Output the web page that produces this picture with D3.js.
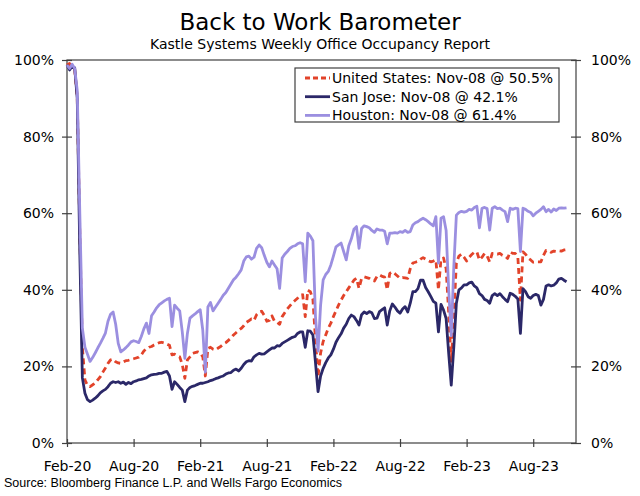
<!DOCTYPE html>
<html>
<head>
<meta charset="utf-8">
<script src="https://cdn.jsdelivr.net/npm/d3@7"></script>
<style>
  html, body { margin: 0; padding: 0; background: #fff; }
  svg { display: block; }
</style>
</head>
<body>
<svg id="chart" width="640" height="496"></svg>
<script>
// Weekly observations, week 0 = first week of Feb 2020, last = Nov-08-2023
const tickLabels = ["Feb-20","Aug-20","Feb-21","Aug-21","Feb-22","Aug-22","Feb-23","Aug-23"];
const tickWeeks = [0, 26, 52, 78, 104, 130, 156, 182];
const yTicks = [0, 20, 40, 60, 80, 100];
const seriesNames = ["United States: Nov-08 @ 50.5%", "San Jose: Nov-08 @ 42.1%", "Houston: Nov-08 @ 61.4%"];

const unitedStates = [
  98.7,99.1,98.5,97.5,90,55,25,16.5,15,14.7,
  15.2,15.6,16.5,17.3,18.5,19.6,20.8,21.7,21.9,21.2,
  20.9,20.8,21.2,21.5,21.6,21.8,22,22.2,22.4,23,
  24,24.6,25,25.2,25.6,25.9,26.2,26.3,26.1,25.8,
  25.5,23,23.2,22.8,22.5,20.5,16.9,21.7,22.5,23.4,
  23.6,23.8,23.5,22.5,17.5,24.7,25,24.5,24.3,24.8,
  25.2,25.8,26.2,26.8,27.4,28.2,28.8,29.4,29.9,30.6,
  31.5,31.9,32.4,32,33.5,34.2,34.4,33.3,31.8,32,
  33.2,31.8,31.5,31,33,34,35,35.8,36.6,37.2,
  37.8,38.6,38.7,33,39.9,39.5,37.5,27,17.3,23.5,
  26.5,28.2,30,31.3,33,34.5,36,37.3,38.5,39.5,
  40.5,41.5,42.5,43,40.4,43,43.4,43.2,43,42.5,
  42.3,43.5,43.9,43.5,43.3,40,44.3,44.7,44.2,43.6,
  43,43.2,43.1,43,45.5,47,47.2,47.4,48,48.4,
  48,47.6,47.3,47.5,47.8,40,48,48.3,45.5,34,
  21,33,47,48.8,49.3,48.5,47.5,48.5,49.2,49.8,
  49.9,47.8,48.5,49.5,48.8,47.3,49.5,49.5,49.3,49.5,
  49,48.8,48.2,49.9,49.5,49.5,48.5,37.3,49.9,49.3,
  48.3,47.8,47.2,47.3,47.3,47.3,49,50.3,50.2,49.8,
  50.1,50,50.2,50.1,50.4,50.5
];

const sanJose = [
  98.7,97.4,98.3,98,90,50,17,13,11.3,10.8,
  11.2,11.7,12.3,13.1,13.6,14,14.7,15.6,16,15.8,
  16,15.6,15.9,15.3,15.8,15.5,16,16.2,16.5,16.6,
  16.8,17,17.5,17.8,17.9,18,18.2,18.2,18.5,18.7,
  17.5,14,16,15.3,14.5,13.8,10.8,13.8,14.5,14.8,
  15,15.3,15.6,15.6,15.8,16,16.3,16.5,16.8,17,
  17.3,17.5,18,18.3,18.4,19,19.3,18.8,19.5,20.5,
  21.2,21.5,21.4,22.5,23,23.4,23.2,23.3,23.8,24.3,
  24.8,24.8,25.4,25.3,26,26.4,26.8,27.2,27.6,27.8,
  28.6,29,29,25,29.3,29.2,28.2,21,13.4,17.5,
  19.5,21,22.2,23,24.5,26.3,27.5,28.5,30,31,
  32.5,33.4,33,32,30.8,33.5,34.2,33.8,34.3,34,
  32.5,32.6,34.3,34.8,35.3,30.8,34.5,36.3,35.5,34.5,
  33.9,35,35.6,34.2,36.5,39.5,39.5,40.3,42.5,42.5,
  40.6,39.5,38.3,37,36.5,29,36.2,34.7,32.5,23.4,
  15.1,25,36.5,40,40.5,41.3,41.3,41.8,42,41,
  40.5,39,38.5,37.5,37.2,36.5,38.5,39,38.5,39,
  38.2,37.5,36.9,39.1,38.8,38.3,37.6,28.6,40.3,39.5,
  38.2,37.8,38.5,38.8,38.5,36,37.5,41,41.3,41,
  41.2,41.8,42.8,43,42.5,42.1
];

const houston = [
  98.7,97.8,98.9,97.8,92,60,30,25,23.2,21.3,
  22.3,23.5,24.8,26,27.3,28.7,31.8,33.6,34.2,31,
  26,23.8,24.3,24.9,25.6,26.4,26.7,26.5,26.2,27.8,
  29.8,31.3,28.6,33.2,34.2,35.3,36.1,36.6,37.1,37.5,
  37.8,30.4,36,35.2,34.5,29,22.1,28.6,32.6,33.2,
  33.7,34.3,34.8,29.5,18.5,35.5,36.7,34.5,35.5,36.5,
  37.5,38.6,39.3,40.4,41.5,42.6,43.3,44.2,45.2,47.5,
  48.6,48.8,48,48.5,50.8,51.7,51,49,47.2,46,
  47.5,46.5,45.5,40.4,48.3,49.3,50,50.8,51.3,51.5,
  52,52.3,52,42.1,54.8,54,52.8,33,24,36,
  42.6,44,44.8,46.5,48.8,51.2,51.7,52.2,50,47.8,
  51.5,53.3,55.8,56.5,50.8,56,56.7,56.5,56.2,55.5,
  55,55.9,55.6,55.6,55.3,52,54.8,54.8,54.9,54.8,
  55.2,55,55.5,55,55.2,56.9,57.5,57.8,58.3,58.7,
  58.3,57.8,57.2,56.7,59.1,47,58.7,59.1,55.5,40,
  28,46,59.5,60.2,60.5,60.3,60.5,61,60.8,61.5,
  61.8,56.2,61.3,61.5,61.2,55.6,61.3,61.7,61.2,61.3,
  60.8,60.4,57.8,61.3,61,61.3,61.2,50,61.3,61,
  60.5,60.2,59.3,60,60.5,61,61.7,60.4,61,60.3,
  61.1,60.7,61.3,61.4,61.3,61.4
];

const svg = d3.select("#chart");
const W = 640, H = 496;
const m = { left: 67, right: 576, top: 60, bottom: 443 };
const axisColor = "#404040";
const font = "Verdana, 'DejaVu Sans', sans-serif";

const x = d3.scaleLinear().domain([0, 198.7]).range([m.left, m.right]);
const y = d3.scaleLinear().domain([0, 100]).range([m.bottom, m.top]);

// Title
svg.append("text").attr("x", 320).attr("y", 30).attr("text-anchor", "middle")
  .style("font-family", font).style("font-size", "23px").attr("fill", "#000")
  .text("Back to Work Barometer");
svg.append("text").attr("x", 320).attr("y", 49).attr("text-anchor", "middle")
  .style("font-family", font).style("font-size", "14px").attr("fill", "#000")
  .text("Kastle Systems Weekly Office Occupancy Report");

// Frame
svg.append("rect").attr("x", m.left).attr("y", m.top)
  .attr("width", m.right - m.left).attr("height", m.bottom - m.top)
  .attr("fill", "none").attr("stroke", axisColor).attr("stroke-width", 1.2);

// Left axis
const yFmt = d => d + "%";
const leftAxis = d3.axisLeft(y).tickValues(yTicks).tickFormat(yFmt).tickSizeInner(5).tickSizeOuter(0).tickPadding(8);
const gl = svg.append("g").attr("transform", `translate(${m.left},0)`).call(leftAxis);
const rightAxis = d3.axisRight(y).tickValues(yTicks).tickFormat(yFmt).tickSizeInner(5).tickSizeOuter(0).tickPadding(10);
const gr = svg.append("g").attr("transform", `translate(${m.right},0)`).call(rightAxis);
const bottomAxis = d3.axisBottom(x).tickValues(tickWeeks).tickFormat((d, i) => tickLabels[i]).tickSizeInner(4).tickSizeOuter(0).tickPadding(14);
const gb = svg.append("g").attr("transform", `translate(0,${m.bottom})`).call(bottomAxis);

[gl, gr, gb].forEach(g => {
  g.select(".domain").remove();
  g.selectAll(".tick line").attr("stroke", axisColor).attr("stroke-width", 1.2);
  g.selectAll(".tick text").style("font-family", font).style("font-size", "14px").attr("fill", "#000");
});
// ticks crossing the axis
gl.selectAll(".tick line").attr("x1", 5);
gr.selectAll(".tick line").attr("x1", -5);
gb.selectAll(".tick line").attr("y1", -4);

// Lines
const line = d3.line().x((d, i) => x(i)).y(d => y(d));
const series = [
  { name: seriesNames[0], values: unitedStates, color: "#e2432a", width: 2.8, dash: "6,4" },
  { name: seriesNames[1], values: sanJose, color: "#2b2868", width: 2.8, dash: null },
  { name: seriesNames[2], values: houston, color: "#9b8fe0", width: 2.8, dash: null }
];
series.forEach(s => {
  svg.append("path").datum(s.values).attr("d", line)
    .attr("fill", "none").attr("stroke", s.color).attr("stroke-width", s.width)
    .attr("stroke-linejoin", "round")
    .attr("stroke-dasharray", s.dash);
});

// Legend
const lg = svg.append("g");
lg.append("rect").attr("x", 295).attr("y", 68).attr("width", 264).attr("height", 54)
  .attr("fill", "#fff").attr("stroke", axisColor).attr("stroke-width", 1.2);
series.forEach((s, i) => {
  const cy = 78 + i * 18.7;
  lg.append("line").attr("x1", 305).attr("x2", 330).attr("y1", cy).attr("y2", cy)
    .attr("stroke", s.color).attr("stroke-width", 2.8).attr("stroke-dasharray", s.dash ? "5,3" : null);
  lg.append("text").attr("x", 332).attr("y", cy + 5)
    .style("font-family", font).style("font-size", "14px").attr("fill", "#000")
    .text(s.name);
});

// Source
svg.append("text").attr("x", 4).attr("y", 487)
  .style("font-family", "Arial, 'Liberation Sans', sans-serif").style("font-size", "12.5px").attr("fill", "#000")
  .text("Source: Bloomberg Finance L.P. and Wells Fargo Economics");
</script>
</body>
</html>
